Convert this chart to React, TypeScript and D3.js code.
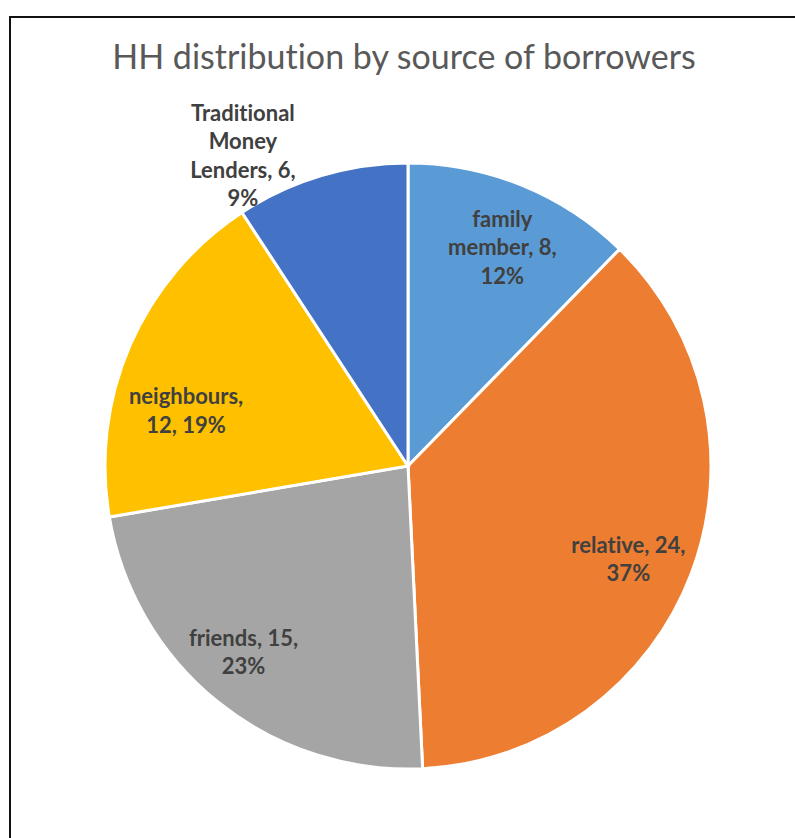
import React from "react";
import * as d3 from "d3";

const categories = ["family member", "relative", "friends", "neighbours", "Traditional Money Lenders"];
const values = [8, 24, 15, 12, 6];
const percentLabels = ["12%", "37%", "23%", "19%", "9%"];
const labelLines = [
  ["family", "member, 8,", "12%"],
  ["relative, 24,", "37%"],
  ["friends, 15,", "23%"],
  ["neighbours,", "12, 19%"],
  ["Traditional", "Money", "Lenders, 6,", "9%"],
];
const colors = ["#5B9BD5", "#ED7D31", "#A5A5A5", "#FFC000", "#4472C4"];
const title = "HH distribution by source of borrowers";

// label placement (layout, not data): angle offset in degrees, radius factor
const placement = [
  { dA: 1.2, rf: 0.785 },
  { dA: 2.2, rf: 0.79 },
  { dA: 2.7, rf: 0.82 },
  { dA: -9.5, rf: 0.755 },
  { dA: -11.4, rf: 1.16 },
];

const W = 795;
const H = 838;
const cx = 408;
const cy = 466;
const R = 303;
const lineH = 28.6;

export default function App() {
  const data = categories.map((c, i) => ({ c, v: values[i], i, pct: percentLabels[i] }));
  const pie = d3.pie<any>().value((d) => d.v).sort(null).startAngle(0).endAngle(2 * Math.PI);
  const arcs = pie(data);
  const arc = d3.arc<any>().innerRadius(0).outerRadius(R);

  return (
    <svg width={W} height={H} style={{ position: "absolute", left: 0, top: 0, background: "#fff" }}>
      <rect x={10} y={17} width={W + 20} height={H + 20} fill="#fff" stroke="#111" strokeWidth={2} />
      <text
        x={404}
        y={69}
        textAnchor="middle"
        fontFamily="Lato, 'Open Sans', sans-serif"
        fontSize={34}
        fill="#595959"
        style={{ fontVariantLigatures: "none" }}
      >
        {title}
      </text>
      <g transform={`translate(${cx},${cy})`}>
        {arcs.map((a, i) => (
          <path key={i} d={arc(a) as string} fill={colors[i]} stroke="#fff" strokeWidth={3} />
        ))}
        {arcs.map((a, i) => {
          const mid = (a.startAngle + a.endAngle) / 2 + (placement[i].dA * Math.PI) / 180;
          const r = R * placement[i].rf;
          const x = r * Math.sin(mid);
          const y = -r * Math.cos(mid);
          const lines = labelLines[i];
          const y0 = y - ((lines.length - 1) * lineH) / 2;
          return (
            <text
              key={"l" + i}
              textAnchor="middle"
              fontFamily="Lato, 'Open Sans', sans-serif"
              fontWeight={700}
              fontSize={22}
              fill="#404040"
              style={{ fontVariantLigatures: "none" }}
            >
              {lines.map((ln, j) => (
                <tspan key={j} x={x} y={y0 + j * lineH} dy="0.35em">
                  {ln}
                </tspan>
              ))}
            </text>
          );
        })}
      </g>
    </svg>
  );
}
